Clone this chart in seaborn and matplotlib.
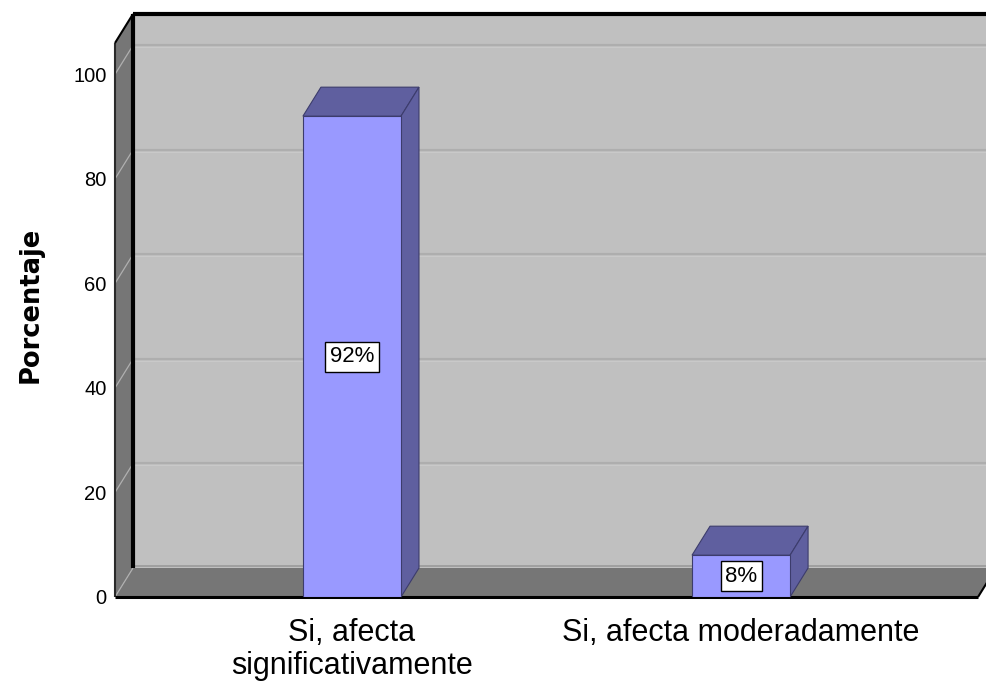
import matplotlib
matplotlib.use("Agg")
import matplotlib.pyplot as plt
import seaborn as sns
from matplotlib.patches import Polygon

# Datos
categorias = ["Si, afecta\nsignificativamente", "Si, afecta moderadamente"]
porcentajes = [92, 8]
etiquetas = ["92%", "8%"]
marcas_y = [0, 20, 40, 60, 80, 100]

sns.set_style("white")
plt.rcParams["font.family"] = ["Liberation Sans", "DejaVu Sans"]
plt.rcParams["text.color"] = "black"
plt.rcParams["axes.labelcolor"] = "black"
plt.rcParams["xtick.color"] = "black"
plt.rcParams["ytick.color"] = "black"

fig = plt.figure(figsize=(9.86, 6.89), dpi=100)
ax = fig.add_axes([115 / 986, 92 / 689, 863 / 986, 554 / 689])

sns.barplot(x=categorias, y=porcentajes, color="#9999ff", width=0.252,
            saturation=1, edgecolor="#3c3c6c", linewidth=0.8, ax=ax, zorder=3)

x0, x1 = -0.609, 1.609
ymax = 106
ax.set_xlim(x0, x1)
ax.set_ylim(0, ymax)
ax.patch.set_visible(False)
for s in ax.spines.values():
    s.set_visible(False)

# desplazamiento de profundidad (pixeles)
DX, DY = 18, 29


def fondo(x, y):
    px, py = ax.transData.transform((x, y))
    return tuple(ax.transData.inverted().transform((px + DX, py + DY)))


def poly(pts, fc, z, ec="none", lw=0):
    ax.add_patch(Polygon(pts, closed=True, fc=fc, ec=ec, lw=lw,
                         zorder=z, clip_on=False))


def linea(p, q, color, lw, z):
    ax.plot([p[0], q[0]], [p[1], q[1]], color=color, lw=lw, zorder=z,
            clip_on=False, solid_capstyle="butt")


# pared del fondo
poly([fondo(x0, 0), fondo(x1, 0), fondo(x1, ymax), fondo(x0, ymax)], "#c0c0c0", 0)
for v in marcas_y[1:]:
    linea(fondo(x0, v), fondo(x1, v), "#aeaeae", 1.6, 0.5)
    linea(fondo(x0, v - 0.35), fondo(x1, v - 0.35), "#c9c9c9", 0.8, 0.5)
linea(fondo(x0, ymax), fondo(x1, ymax), "black", 3, 0.6)

# pared izquierda y suelo
poly([(x0, 0), (x0, ymax), fondo(x0, ymax), fondo(x0, 0)], "#767676", 1)
poly([(x0, 0), (x1, 0), fondo(x1, 0), fondo(x0, 0)], "#767676", 1)
for v in marcas_y:
    linea((x0, v), fondo(x0, v), "#b0b0b0", 0.9, 1.1)
linea(fondo(x0, 0.4), fondo(x1, 0.4), "#9a9a9a", 1.2, 1.1)
linea(fondo(x0, 0), fondo(x0, ymax), "black", 3, 1.2)
linea((x0, 0), (x0, ymax), "#2a2a2a", 1.5, 1.2)
linea((x0, ymax), fondo(x0, ymax), "black", 1.5, 1.2)
linea((x0, 0), (x1, 0), "black", 2.2, 1.2)
linea((x1, 0), fondo(x1, 0), "black", 1.5, 1.2)

# caras 3D de las barras y etiquetas
for patch, etiqueta in zip(ax.patches[:len(porcentajes)], etiquetas):
    x, w, h = patch.get_x(), patch.get_width(), patch.get_height()
    poly([(x, h), (x + w, h), fondo(x + w, h), fondo(x, h)], "#5f5f9f", 2.9,
         ec="#3c3c6c", lw=0.8)
    poly([(x + w, 0), (x + w, h), fondo(x + w, h), fondo(x + w, 0)], "#5f5f9f", 2.9,
         ec="#3c3c6c", lw=0.8)
    ax.text(x + w / 2, h / 2, etiqueta, ha="center", va="center", fontsize=16,
            color="black", zorder=5,
            bbox=dict(boxstyle="square,pad=0.2", fc="white", ec="black", lw=1))

ax.set_yticks(marcas_y)
ax.tick_params(axis="y", length=0, pad=6, labelsize=14.5, labelcolor="black")
ax.tick_params(axis="x", length=0, pad=15, labelsize=22, labelcolor="black")
for t in ax.get_xticklabels():
    t.set_linespacing(1.15)

ax.set_ylabel("Porcentaje", fontsize=18.5, fontweight="bold",
              family=["DejaVu Sans"], color="black")
ax.yaxis.set_label_coords(-0.098, 0.527)
ax.yaxis.label.set_va("center")

fig.savefig("out.png", dpi=100)
